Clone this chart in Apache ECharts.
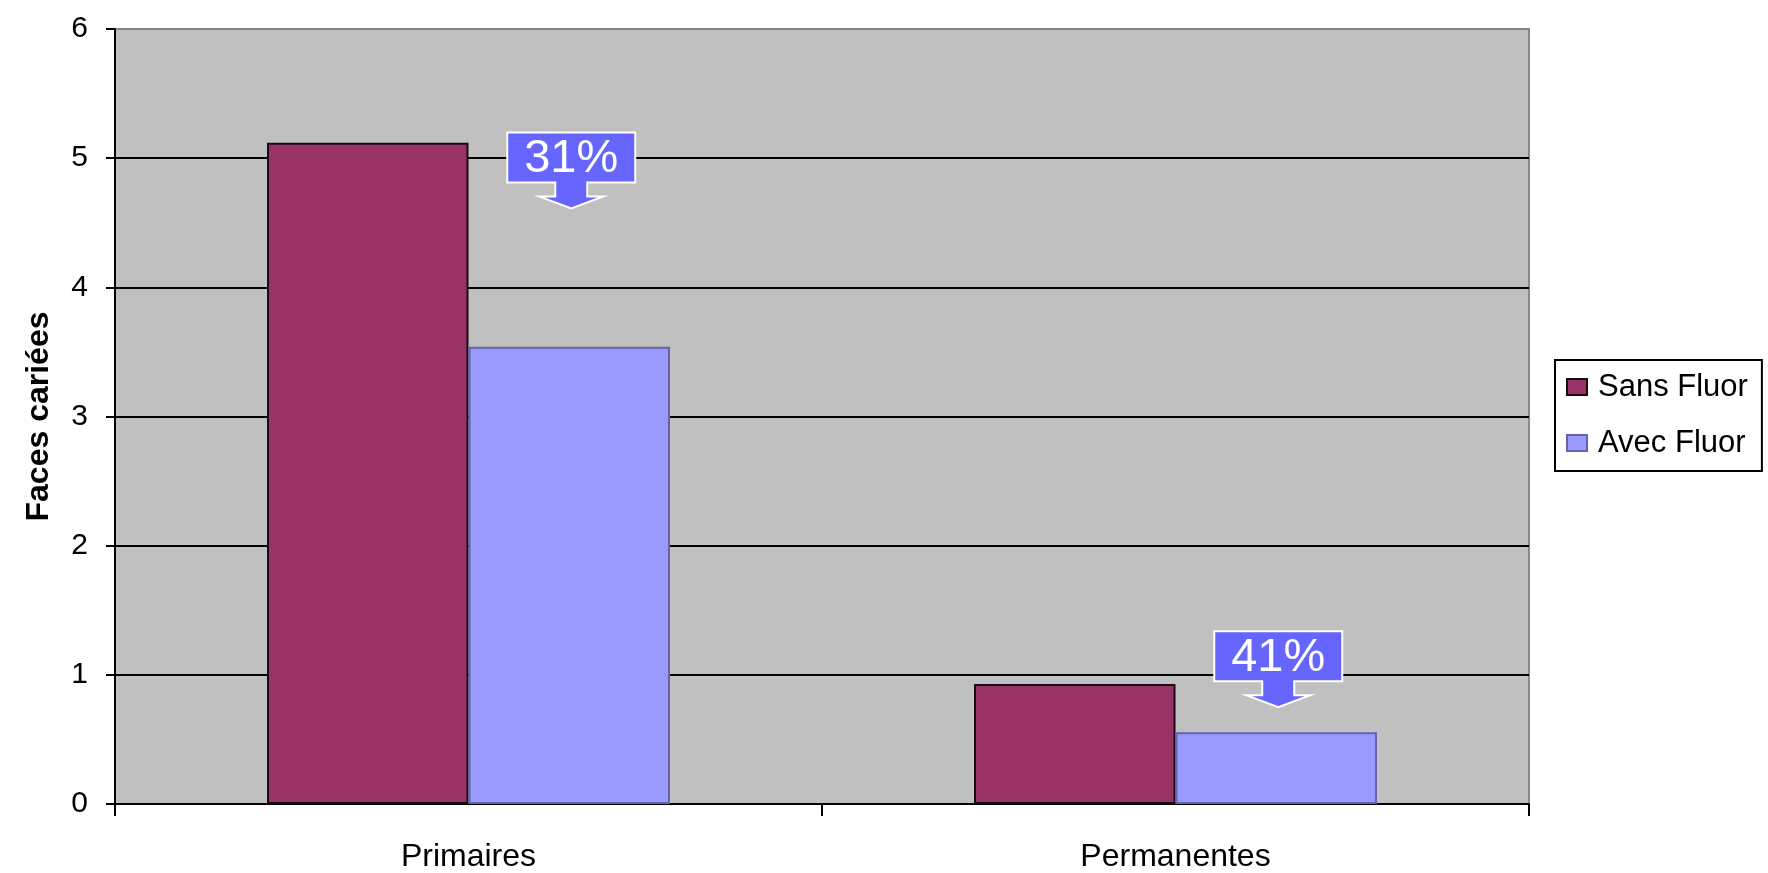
<!DOCTYPE html>
<html>
<head>
<meta charset="utf-8">
<script src="https://cdn.jsdelivr.net/npm/echarts@6/dist/echarts.min.js"></script>
<style>
html,body{margin:0;padding:0;background:#fff;}
#chart{width:1768px;height:873px;}
</style>
</head>
<body>
<div id="chart"></div>
<script>
// ---- data ----
const categories = ['Primaires', 'Permanentes'];
const seriesNames = ['Sans Fluor', 'Avec Fluor'];
const sansFluor = [5.12, 0.93];
const avecFluor = [3.54, 0.555];
const yTicks = [0, 1, 2, 3, 4, 5, 6];
const yAxisTitle = 'Faces cariées';
// callouts: label, category, value at arrow tip
const calloutLabels = ['31%', '41%'];
const calloutCategories = ['Primaires', 'Permanentes'];
const calloutTipValues = [4.61, 0.75];

const FONT = 'Arial, "Liberation Sans", sans-serif';
const CAT_GAP = 0.43;

const chart = echarts.init(document.getElementById('chart'), null, {renderer: 'canvas'});

const calloutData = calloutLabels.map((l, i) => [categories.indexOf(calloutCategories[i]), calloutTipValues[i], l]);

function renderCallout(params, api) {
  const p = api.coord([api.value(0), api.value(1)]);
  const catW = api.size([1, 0])[0];
  const barW = catW * (1 - CAT_GAP) / 2;
  const tx = p[0] + barW / 2 + 2;
  const ty = p[1];
  const bw = 128, top = ty - 76, bot = ty - 26, headTop = ty - 12;
  const bx0 = tx - bw / 2, bx1 = tx + bw / 2;
  const sh = 16, hh = 32;
  return {
    type: 'group',
    children: [
      {
        type: 'polygon',
        shape: {points: [
          [bx0, top], [bx1, top], [bx1, bot], [tx + sh, bot], [tx + sh, headTop],
          [tx + hh, headTop], [tx, ty], [tx - hh, headTop], [tx - sh, headTop],
          [tx - sh, bot], [bx0, bot]
        ]},
        style: {fill: '#6666ff', stroke: '#ffffff', lineWidth: 2}
      },
      {
        type: 'text',
        style: {
          text: api.value(2),
          x: tx, y: (top + bot) / 2 + 2,
          align: 'center', verticalAlign: 'middle',
          fill: '#ffffff', font: '47px ' + FONT
        }
      }
    ]
  };
}

const option = {
  animation: false,
  backgroundColor: '#ffffff',
  textStyle: {fontFamily: FONT},
  grid: {
    left: 115, right: 239, top: 29, bottom: 68,
    show: true, backgroundColor: '#c0c0c0', borderColor: '#888888', borderWidth: 2
  },
  legend: {
    data: seriesNames,
    orient: 'vertical',
    left: 1555, top: 360,
    padding: [10, 14, 11, 11],
    backgroundColor: '#ffffff',
    borderColor: '#000000', borderWidth: 2,
    itemWidth: 20, itemHeight: 16, itemGap: 22,
    icon: 'rect',
    textStyle: {fontSize: 31, color: '#000', fontFamily: FONT, lineHeight: 34, padding: [0, 0, 0, 6]}
  },
  xAxis: {
    type: 'category',
    data: categories,
    boundaryGap: true,
    axisLine: {show: true, lineStyle: {color: '#000', width: 2}},
    axisTick: {show: true, length: 12, interval: 0, lineStyle: {color: '#000', width: 2}},
    axisLabel: {fontSize: 32, color: '#000', margin: 37, fontFamily: FONT},
    splitLine: {show: false}
  },
  yAxis: {
    type: 'value',
    min: yTicks[0], max: yTicks[yTicks.length - 1], interval: 1,
    name: yAxisTitle,
    nameLocation: 'middle',
    nameGap: 60,
    nameRotate: 90,
    nameTextStyle: {fontSize: 32, fontWeight: 'bold', color: '#000', fontFamily: FONT},
    axisLine: {show: true, lineStyle: {color: '#000', width: 2}},
    axisTick: {show: true, length: 9, lineStyle: {color: '#000', width: 2}},
    axisLabel: {fontSize: 30, color: '#000', margin: 27, fontFamily: FONT},
    splitLine: {show: true, showMinLine: false, showMaxLine: false, lineStyle: {color: '#000', width: 2}}
  },
  series: [
    {
      name: seriesNames[0], type: 'bar', data: sansFluor,
      barGap: '0%', barCategoryGap: (CAT_GAP * 100) + '%',
      itemStyle: {color: '#993366', borderColor: '#1a0a12', borderWidth: 2}
    },
    {
      name: seriesNames[1], type: 'bar', data: avecFluor,
      barGap: '0%', barCategoryGap: (CAT_GAP * 100) + '%',
      itemStyle: {color: '#9999ff', borderColor: '#6464a8', borderWidth: 2}
    },
    {
      name: 'callouts', type: 'custom', data: calloutData,
      encode: {x: 0, y: 1},
      renderItem: renderCallout, z: 10, silent: true
    }
  ]
};
chart.setOption(option);
</script>
</body>
</html>
